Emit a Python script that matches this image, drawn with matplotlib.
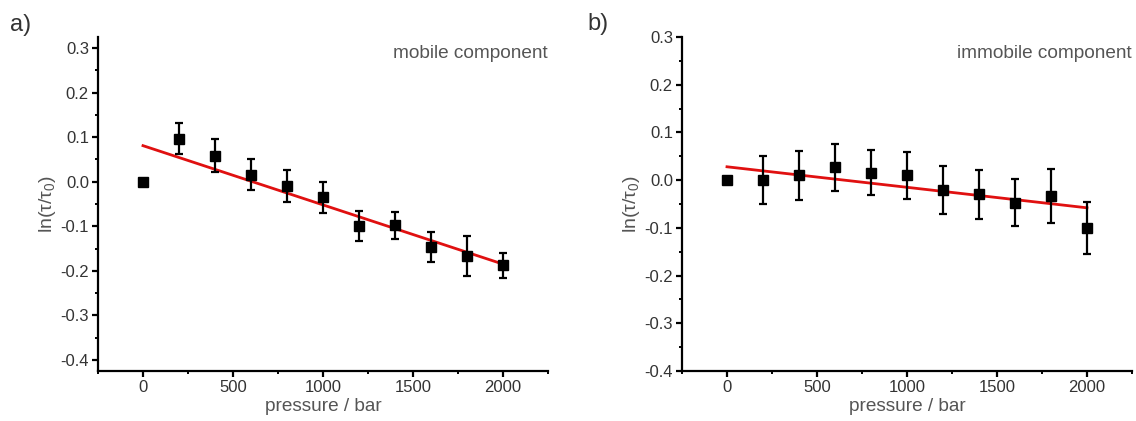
import matplotlib
matplotlib.use("Agg")
import matplotlib.pyplot as plt
from matplotlib.ticker import MultipleLocator

plt.rcParams['font.family'] = ['Liberation Sans', 'DejaVu Sans']
plt.rcParams['mathtext.fontset'] = 'custom'
plt.rcParams['mathtext.rm'] = 'Liberation Sans'
plt.rcParams['mathtext.it'] = 'Liberation Sans'

pressure = [0, 200, 400, 600, 800, 1000, 1200, 1400, 1600, 1800, 2000]

mobile_y = [0.0, 0.097, 0.058, 0.016, -0.009, -0.035, -0.099, -0.098, -0.147, -0.167, -0.188]
mobile_err = [0.0, 0.035, 0.037, 0.034, 0.036, 0.035, 0.034, 0.030, 0.034, 0.045, 0.028]
mobile_fit_x = [0, 2000]
mobile_fit_y = [0.081, -0.185]

immobile_y = [0.0, 0.0, 0.010, 0.027, 0.016, 0.010, -0.021, -0.030, -0.047, -0.033, -0.100]
immobile_err = [0.0, 0.050, 0.051, 0.049, 0.048, 0.050, 0.051, 0.051, 0.050, 0.056, 0.054]
immobile_fit_x = [0, 2000]
immobile_fit_y = [0.028, -0.058]

W, H = 1136, 421
fig = plt.figure(figsize=(W / 100, H / 100), dpi=100)

def px_axes(l, r, t, b):
    return fig.add_axes([l / W, 1 - b / H, (r - l) / W, (b - t) / H])

ax_a = px_axes(98, 548, 37, 371)
ax_b = px_axes(682, 1132, 37, 371)

label_col = '#555555'
tick_col = '#333333'

panels = [
    (ax_a, mobile_y, mobile_err, mobile_fit_x, mobile_fit_y, (-0.425, 0.325), 'mobile component'),
    (ax_b, immobile_y, immobile_err, immobile_fit_x, immobile_fit_y, (-0.4, 0.3), 'immobile component'),
]

for ax, y, err, fx, fy, ylim, title in panels:
    ax.plot(fx, fy, color='#e01010', lw=2.0, zorder=2)
    ax.errorbar(pressure[1:], y[1:], yerr=err[1:], fmt='none', ecolor='black',
                elinewidth=1.6, capsize=2.6, capthick=1.6, zorder=3)
    ax.plot(pressure, y, 's', color='black', ms=7, zorder=4)
    ax.set_xlim(-250, 2250)
    ax.set_ylim(*ylim)
    ax.set_xticks([0, 500, 1000, 1500, 2000])
    ax.xaxis.set_minor_locator(MultipleLocator(250))
    ax.set_yticks([-0.4, -0.3, -0.2, -0.1, 0.0, 0.1, 0.2, 0.3])
    ax.yaxis.set_minor_locator(MultipleLocator(0.05))
    ax.set_yticklabels(['-0.4', '-0.3', '-0.2', '-0.1', '0.0', '0.1', '0.2', '0.3'])
    for s in ['top', 'right']:
        ax.spines[s].set_visible(False)
    for s in ['left', 'bottom']:
        ax.spines[s].set_linewidth(1.6)
    ax.tick_params(which='major', length=4.5, width=1.6, colors='black',
                   labelcolor=tick_col, labelsize=12, pad=2)
    ax.tick_params(which='minor', length=2.5, width=1.4, colors='black')
    ax.set_xlabel('pressure / bar', fontsize=13.7, color=label_col, labelpad=2)
    ax.set_ylabel(r'ln($\tau$/$\tau_0$)', fontsize=14, color=label_col, labelpad=2)
    ax.text(1.0, 1 - (53 - 37) / (371 - 37), title, transform=ax.transAxes,
            ha='right', va='center', fontsize=13.7, color=label_col)

fig.text(10 / W, 1 - 25 / H, 'a)', fontsize=17, color='#333333', va='center', ha='left')
fig.text(587 / W, 1 - 24 / H, 'b)', fontsize=17, color='#333333', va='center', ha='left')

fig.savefig('out.png', dpi=100, facecolor='white')
